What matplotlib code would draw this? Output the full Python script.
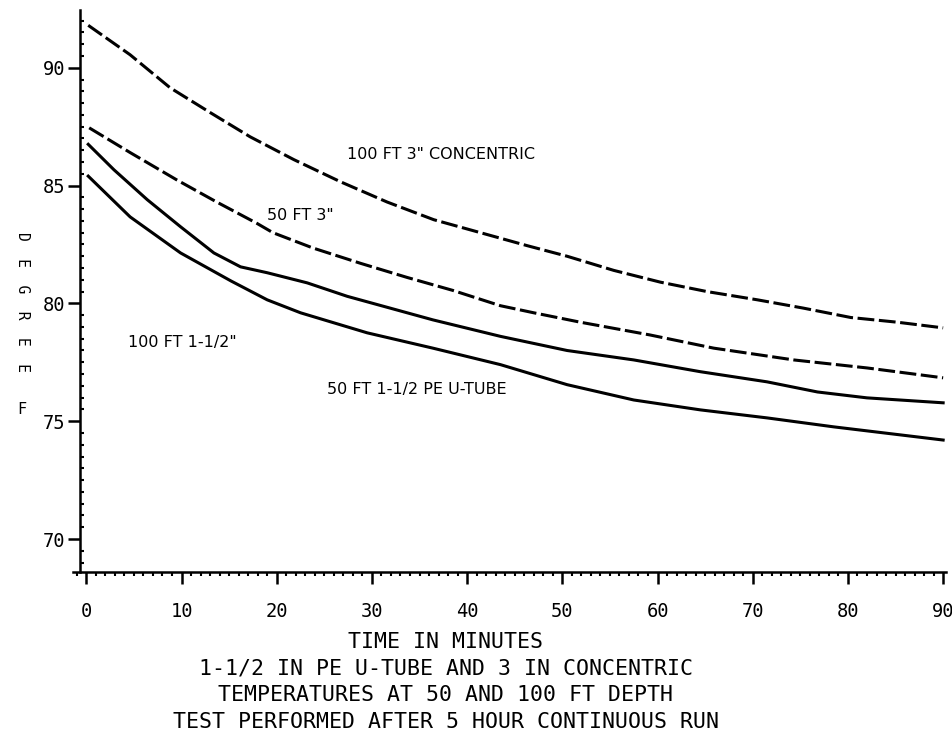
import matplotlib
matplotlib.use("Agg")
import matplotlib.pyplot as plt
from matplotlib.ticker import MultipleLocator

# readings taken off the plot: time (minutes) and temperature (deg F)
conc_100ft_t = [0.2, 4.6, 8.8, 13.0, 17.2, 21.8, 26.7, 31.6, 36.5, 41.4, 46.3, 50.5,
                55.4, 60.3, 65.2, 70.5, 75.3, 80.3, 85.2, 90.0]
conc_100ft = [91.8, 90.55, 89.15, 88.1, 87.07, 86.1, 85.16, 84.3, 83.55, 83.0, 82.45,
              82.0, 81.4, 80.9, 80.5, 80.15, 79.8, 79.4, 79.2, 78.96]

conc_50ft_t = [0.3, 4.6, 9.5, 13.7, 17.9, 19.6, 23.8, 28.8, 33.7, 38.5, 43.5, 47.0,
               51.9, 59.2, 65.9, 74.3, 82.0, 90.0]
conc_50ft = [87.45, 86.4, 85.24, 84.3, 83.4, 83.0, 82.35, 81.7, 81.1, 80.55, 79.9, 79.6,
             79.2, 78.66, 78.1, 77.6, 77.26, 76.84]

utube_100ft_t = [0.2, 2.9, 6.4, 9.9, 13.4, 16.2, 19.0, 23.2, 27.4, 36.4, 43.5, 50.5,
                 57.5, 64.5, 71.5, 76.8, 82.0, 90.0]
utube_100ft = [86.75, 85.67, 84.4, 83.25, 82.14, 81.55, 81.3, 80.87, 80.3, 79.3, 78.6,
               78.0, 77.6, 77.1, 76.67, 76.24, 75.99, 75.78]

utube_50ft_t = [0.2, 4.6, 9.9, 15.2, 19.0, 22.5, 29.5, 36.4, 43.5, 50.5, 57.5, 64.5,
                71.5, 78.5, 90.0]
utube_50ft = [85.4, 83.67, 82.14, 80.95, 80.15, 79.6, 78.75, 78.1, 77.4, 76.55, 75.9,
              75.48, 75.14, 74.76, 74.2]

labels = ['100 FT 3" CONCENTRIC', '50 FT 3"', '100 FT 1-1/2"', '50 FT 1-1/2 PE U-TUBE']
label_pos = [(27.4, 86.3), (19.0, 83.75), (4.4, 78.35), (25.3, 76.33)]

caption = ["TIME IN MINUTES",
           "1-1/2 IN PE U-TUBE AND 3 IN CONCENTRIC",
           "TEMPERATURES AT 50 AND 100 FT DEPTH",
           "TEST PERFORMED AFTER 5 HOUR CONTINUOUS RUN"]

mono = "DejaVu Sans Mono"

fig = plt.figure(figsize=(9.53, 7.42), dpi=100)
ax = fig.add_axes([73 / 953, 1 - 572 / 742, (946 - 73) / 953, (572 - 10) / 742])

dash = (0, (5.5, 1.5))
ax.plot(conc_100ft_t, conc_100ft, color="black", lw=2.2, linestyle=dash)
ax.plot(conc_50ft_t, conc_50ft, color="black", lw=2.2, linestyle=dash)
ax.plot(utube_100ft_t, utube_100ft, color="black", lw=2.2)
ax.plot(utube_50ft_t, utube_50ft, color="black", lw=2.2)

for txt, (x, y) in zip(labels, label_pos):
    ax.text(x, y, txt, fontsize=11.5, family="DejaVu Sans", ha="left", va="center")

ax.set_xlim(-1.4, 90.3)
ax.set_ylim(68.6, 92.45)
ax.spines["top"].set_visible(False)
ax.spines["right"].set_visible(False)
ax.spines["left"].set_position(("data", -0.65))
ax.spines["left"].set_linewidth(1.8)
ax.spines["bottom"].set_linewidth(1.8)

ax.xaxis.set_major_locator(MultipleLocator(10))
ax.xaxis.set_minor_locator(MultipleLocator(1))
ax.yaxis.set_major_locator(MultipleLocator(5))
ax.yaxis.set_minor_locator(MultipleLocator(0.5))

ax.tick_params(axis="x", which="major", direction="out", length=8.5, width=1.8, pad=13)
ax.tick_params(axis="x", which="minor", direction="out", length=3, width=1.5)
ax.tick_params(axis="y", which="major", direction="out", length=8.5, width=1.8, pad=2)
ax.tick_params(axis="y", which="minor", direction="in", length=3, width=1.5)
for lab in ax.get_xticklabels() + ax.get_yticklabels():
    lab.set_family(mono)
    lab.set_fontsize(13.5)

# y axis label
fig.text(22 / 953, 1 - 302 / 742, "D  E  G  R  E  E", rotation=270, family=mono,
         fontsize=10.5, ha="center", va="center")
fig.text(22 / 953, 1 - 410 / 742, "F", family=mono, fontsize=11, ha="center", va="center")

# caption under the axis
for i, line in enumerate(caption):
    fig.text(446 / 953, 1 - (642 + 26.5 * i) / 742, line, family=mono, fontsize=15.5,
             ha="center", va="center")

fig.savefig("out.png", dpi=100)
